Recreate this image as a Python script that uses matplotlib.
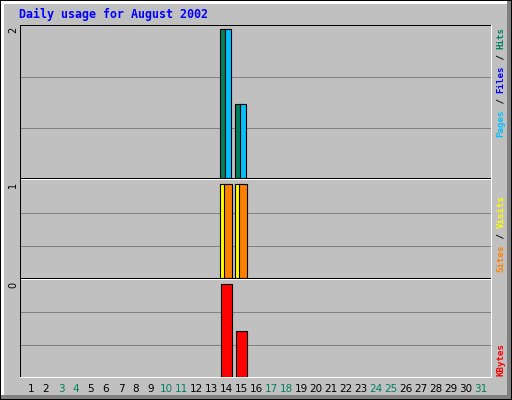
import matplotlib
matplotlib.use("Agg")
import matplotlib.pyplot as plt
from matplotlib.patches import Rectangle
from matplotlib.transforms import IdentityTransform
import numpy as np

# ---- data ------------------------------------------------------------
days = list(range(1, 32))
weekend_days = [3, 4, 10, 11, 17, 18, 24, 25, 31]

hits = [0] * 31
files = [0] * 31
pages = [0] * 31
visits = [0] * 31
sites = [0] * 31
kbytes = [0.0] * 31
hits[13], hits[14] = 2, 1
pages[13], pages[14] = 2, 1
visits[13], visits[14] = 1, 1
sites[13], sites[14] = 1, 1
kbytes[13], kbytes[14] = 0.38, 0.19

title = "Daily usage for August 2002"

# ---- colours (webalizer defaults) ------------------------------------
BG = "#C0C0C0"
GRID = "#808080"
C_HITS = "#00805C"
C_FILES = "#0000FF"
C_PAGES = "#00C0FF"
C_VISITS = "#FFFF00"
C_SITES = "#FF8000"
C_KBYTES = "#FF0000"

W, H = 512, 400
fig = plt.figure(figsize=(W / 100, H / 100), dpi=100)
fig.patch.set_facecolor(BG)
ident = IdentityTransform()


def prect(x0, y0, x1, y1, color, z=10):
    # pixel rectangle, y measured from the top
    fig.add_artist(Rectangle((x0, H - y1), x1 - x0, y1 - y0, transform=ident,
                             facecolor=color, edgecolor="none",
                             antialiased=False, zorder=z))


def hline(y, x0, x1, color):
    prect(x0, y, x1, y + 1, color)


def vline(x, y0, y1, color):
    prect(x, y0, x + 1, y1, color)


# outer bevel (behind everything)
prect(0, 0, W, H, "black", -3)
prect(1, 1, W - 1, H - 1, BG, -3)
prect(1, 1, W - 4, 4, "white", -2)
prect(1, 1, 4, H - 4, "white", -2)
prect(1, H - 5, W - 1, H - 1, GRID, -2)
prect(W - 5, 1, W - 1, H - 1, GRID, -2)

# ---- panels ------------------------------------------------------------
X0, X1 = 21, 491
PX_PER_DAY = 15
CENTER_14 = 226          # pixel centre of day 14

xlim = ((X0 - CENTER_14) / PX_PER_DAY + 14, (X1 - CENTER_14) / PX_PER_DAY + 14)


def make_panel(top, bottom, top_of_max, vmax):
    ax = fig.add_axes([X0 / W, (H - bottom) / H, (X1 - X0) / W, (bottom - top) / H])
    ax.set_facecolor(BG)
    ax.set_xlim(*xlim)
    ax.set_ylim(0, vmax * (bottom - top) / (bottom - top_of_max))
    for s in ax.spines.values():
        s.set_visible(False)
    ax.set_xticks([])
    ax.set_yticks([])
    for f in (0.33, 0.665):
        ax.plot([0, 1], [f, f], transform=ax.transAxes, color=GRID,
                linewidth=0.72, zorder=1, antialiased=False)
    return ax


def bars(ax, values, left_px, width_px, color):
    d = np.array(days)
    v = np.array(values, dtype=float)
    keep = v > 0
    ax.bar(d[keep] + left_px / PX_PER_DAY, v[keep], width=width_px / PX_PER_DAY,
           align="edge", color=color, edgecolor="black", linewidth=0.8, zorder=3)


hmax = max(hits)
vmax = max(max(visits), max(sites))
kmax = max(kbytes)

ax1 = make_panel(26, 178, 29, hmax)
bars(ax1, hits, -6, 9, C_HITS)
bars(ax1, files, -3, 8, C_FILES)
bars(ax1, pages, -1, 6.5, C_PAGES)

ax2 = make_panel(180, 278, 184, vmax)
bars(ax2, visits, -6, 8, C_VISITS)
bars(ax2, sites, -1.5, 7.5, C_SITES)

ax3 = make_panel(280, 377, 284, kmax)
bars(ax3, kbytes, -5, 11, C_KBYTES)

# panel frames (sunken look)
vline(20, 25, 378, "black")
hline(25, 20, 492, "black")
vline(491, 25, 378, "white")
hline(377, 20, 492, "white")
for y in (178, 278):
    hline(y, 21, 491, "black")
    hline(y + 1, 21, 491, "white")

# day labels
ax3.set_xticks(days)
ax3.set_xticklabels([str(d) for d in days], fontsize=7.5, family="DejaVu Sans")
ax3.tick_params(axis="x", length=0, pad=5)
for lab, d in zip(ax3.get_xticklabels(), days):
    lab.set_color(C_HITS if d in weekend_days else "black")

# max value labels on the left
for val, top in ((hmax, 25), (vmax, 180), (kmax, 280)):
    fig.text(13 / W, 1 - (top + 2) / H, f"{val:.0f}", rotation=90,
             ha="center", va="top", fontsize=7, color="black")

# title
fig.text(19 / W, 1 - 14 / H, title, ha="left", va="center",
         family="DejaVu Sans Mono", fontweight="bold", fontsize=8.4, color="#0000FF")

# right side legends, drawn piece by piece in a monospace font
FS = 6.6
CH = 0.6021 * FS * 100 / 72


def legend(start_y, parts):
    y = start_y
    for txt, col in parts:
        fig.text(501 / W, 1 - y / H, txt, rotation=90, rotation_mode="anchor",
                 ha="left", va="center", family="DejaVu Sans Mono",
                 fontweight="bold", fontsize=FS, color=col)
        y -= CH * len(txt)


legend(137, [("Pages", C_PAGES), (" / ", "black"), ("Files", C_FILES),
             (" / ", "black"), ("Hits", C_HITS)])
legend(272, [("Sites", C_SITES), (" / ", "black"), ("Visits", C_VISITS)])
legend(376, [("KBytes", C_KBYTES)])

fig.savefig("out.png", dpi=100, facecolor=BG)
